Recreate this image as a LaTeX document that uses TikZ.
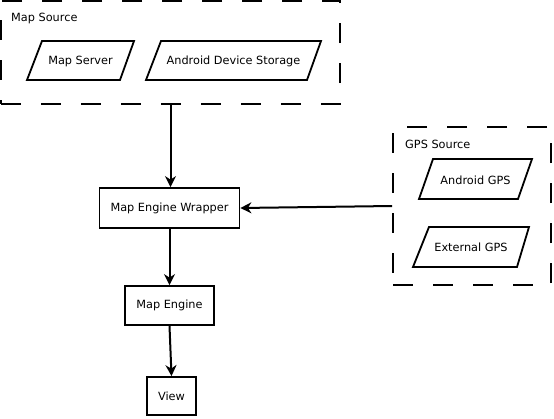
\documentclass[tikz,border=0pt]{standalone}
\usepackage{fontspec}
\setmainfont{DejaVu Sans}
\usetikzlibrary{arrows.meta}
\begin{document}
\begin{tikzpicture}[x=1pt,y=-1pt,
  every node/.style={font=\fontsize{11.3}{13}\selectfont, inner sep=0pt},
  box/.style={draw, line width=1.8pt, rectangle},
  group/.style={draw, line width=1.8pt, rectangle, dash pattern=on 20pt off 20pt},
  para/.style={draw, line width=1.8pt, line join=miter},
  conn/.style={line width=2pt, -{Stealth[length=11pt,width=11pt,inset=3.5pt]}}
]
\useasboundingbox[fill=white] (0,0) rectangle (554,418);

% groups
\node[group, minimum width=339pt, minimum height=103pt] (mapsrc) at (170.5,52.5) {};
\node[anchor=west] (mapsrclbl) at (11,18) {Map Source};
\node[group, minimum width=158pt, minimum height=158pt] (gpssrc) at (472,206) {};
\node[anchor=west] (gpssrclbl) at (405,144) {GPS Source};

% parallelograms
\draw[para] (42,41) -- (134,41) -- (120,80) -- (27,80) -- cycle;
\node (mapserver) at (80.5,61) {Map Server};
\draw[para] (161,41) -- (321,41) -- (307,80) -- (146,80) -- cycle;
\node (ads) at (233.5,61) {Android Device Storage};
\draw[para] (433,159) -- (532,159) -- (518,199) -- (419,199) -- cycle;
\node (agps) at (475.5,180) {Android GPS};
\draw[para] (429,227) -- (529,227) -- (517,267) -- (413,267) -- cycle;
\node (egps) at (471,247.5) {External GPS};

% boxes
\node[box, minimum width=140pt, minimum height=40pt] (wrapper) at (169.5,208) {Map Engine Wrapper};
\node[box, minimum width=89pt, minimum height=39pt] (engine) at (169.5,305.5) {Map Engine};
\node[box, minimum width=49pt, minimum height=38pt] (view) at (171.5,396) {View};

% connectors
\draw[conn] (mapsrc.south) -- (mapsrc.south |- wrapper.north);
\draw[conn] (wrapper.south) -- (engine.north);
\draw[conn] (engine.south) -- (view.north);
\draw[conn] (gpssrc.west) -- (wrapper.east);
\end{tikzpicture}
\end{document}
